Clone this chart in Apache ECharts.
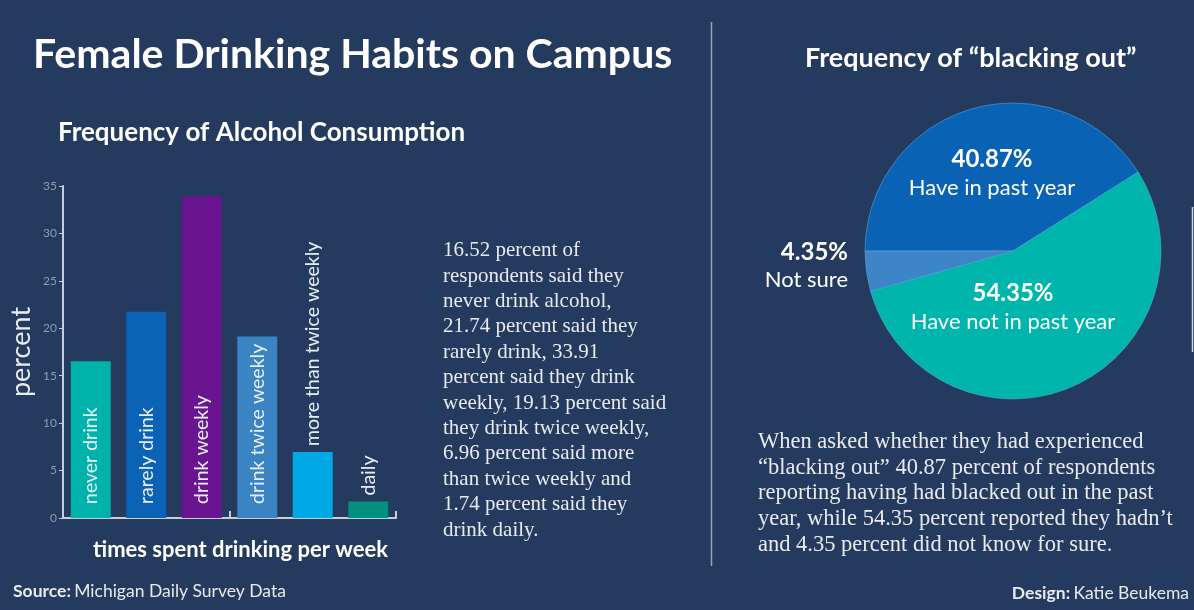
<!DOCTYPE html>
<html>
<head>
<meta charset="utf-8">
<script src="https://cdn.jsdelivr.net/npm/echarts@6/dist/echarts.min.js"></script>
<style>
html,body{margin:0;padding:0;background:#243a5e;}
#c{width:1194px;height:610px;}
</style>
</head>
<body>
<div id="c"></div>
<script>
// ---- data ----
const categories = ['never drink', 'rarely drink', 'drink weekly', 'drink twice weekly', 'more than twice weekly', 'daily'];
const percentValues = [16.52, 21.74, 33.91, 19.13, 6.96, 1.74];
const barColors = ['#00b3aa', '#0a63b4', '#6a1590', '#3b84c4', '#00a8e6', '#00907f'];
const yTicks = [0, 5, 10, 15, 20, 25, 30, 35];

const blackoutLabels = ['Have in past year', 'Have not in past year', 'Not sure'];
const blackoutValues = [40.87, 54.35, 4.35];
const blackoutColors = ['#0a62b4', '#00b5ac', '#3d85c6'];

const paraLeft = '16.52 percent of\nrespondents said they\nnever drink alcohol,\n21.74 percent said they\nrarely drink, 33.91\npercent said they drink\nweekly, 19.13 percent said\nthey drink twice weekly,\n6.96 percent said more\nthan twice weekly and\n1.74 percent said they\ndrink daily.';
const paraRight = 'When asked whether they had experienced\n\u201cblacking out\u201d 40.87 percent of respondents\nreporting having had blacked out in the past\nyear, while 54.35 percent reported they hadn\u2019t\nand 4.35 percent did not know for sure.';

const chart = echarts.init(document.getElementById('c'));
const sans = 'Lato, "Open Sans", sans-serif';
const serif = '"Liberation Serif", "DejaVu Serif", serif';

const pieLabelPos = [
  {x: 992, y: 173, align: 'center'},
  {x: 1013, y: 307, align: 'center'},
  {x: 848, y: 266, align: 'right'}
];

chart.setOption({
  backgroundColor: '#243a5e',
  animation: false,
  grid: {left: 63, top: 186, width: 333, height: 332, containLabel: false},
  xAxis: {
    type: 'category',
    data: categories,
    axisLine: {lineStyle: {color: '#c8ced8', width: 2}},
    axisTick: {show: true, inside: true, length: 7, lineStyle: {color: '#c8ced8', width: 2}},
    axisLabel: {show: false},
    name: 'times spent drinking per week',
    nameLocation: 'middle',
    nameGap: 21,
    nameTextStyle: {color: '#ffffff', fontFamily: sans, fontWeight: 'bold', fontSize: 22, padding: [0, 0, 0, 22]}
  },
  yAxis: {
    type: 'value',
    min: 0, max: 35, interval: 5,
    axisLine: {show: true, lineStyle: {color: '#c8ced8', width: 2}},
    axisTick: {show: true, length: 4, lineStyle: {color: '#c8ced8'}},
    splitLine: {show: false},
    axisLabel: {color: '#8f9bb0', fontFamily: sans, fontSize: 12, margin: 6,
      formatter: v => yTicks.includes(v) ? String(v) : ''},
    name: 'percent',
    nameLocation: 'middle',
    nameGap: 28,
    nameTextStyle: {color: '#e8ecf2', fontFamily: sans, fontSize: 27}
  },
  series: [
    {
      type: 'bar',
      barCategoryGap: '28%',
      data: percentValues.map((v, i) => ({
        value: v,
        itemStyle: {color: barColors[i]},
        label: i >= 4 ? {position: 'top', distance: 6} : {}
      })),
      label: {
        show: true,
        formatter: p => categories[p.dataIndex],
        position: 'insideBottom',
        distance: 14,
        rotate: 90,
        align: 'left',
        verticalAlign: 'middle',
        color: '#e6edf5',
        fontFamily: sans,
        fontSize: 19.5
      }
    },
    {
      type: 'pie',
      center: [1013, 251],
      radius: 148,
      startAngle: 180,
      clockwise: true,
      silent: true,
      data: blackoutValues.map((v, i) => ({name: blackoutLabels[i], value: v, itemStyle: {color: blackoutColors[i]}})),
      itemStyle: {borderColor: '#5aa6d8', borderWidth: 0.6},
      label: {
        show: true,
        position: 'inside',
        formatter: p => {
          const s = p.dataIndex === 2 ? 'r' : '';
          return '{p' + s + '|' + p.value.toFixed(2) + '%}\n{n' + s + '|' + p.name + '}';
        },
        rich: {
          p: {color: '#ffffff', fontFamily: sans, fontWeight: 'bold', fontSize: 24, lineHeight: 30, align: 'center'},
          n: {color: '#ffffff', fontFamily: sans, fontSize: 22, lineHeight: 28, align: 'center'},
          pr: {color: '#ffffff', fontFamily: sans, fontWeight: 'bold', fontSize: 24, lineHeight: 28, align: 'right'},
          nr: {color: '#ffffff', fontFamily: sans, fontSize: 22, lineHeight: 28, align: 'right'}
        }
      },
      labelLine: {show: false},
      labelLayout: p => {
        const q = pieLabelPos[p.dataIndex];
        return {x: q.x, y: q.y, align: q.align, verticalAlign: 'middle'};
      }
    }
  ],
  graphic: [
    {type: 'text', left: 33, top: 34, style: {text: 'Female Drinking Habits on Campus', fill: '#ffffff', font: 'bold 41px ' + sans}},
    {type: 'text', left: 58, top: 120, style: {text: 'Frequency of Alcohol Consumption', fill: '#ffffff', font: 'bold 26px ' + sans}},
    {type: 'text', left: 805, top: 45, style: {text: 'Frequency of \u201cblacking out\u201d', fill: '#ffffff', font: 'bold 27px ' + sans}},
    {type: 'line', shape: {x1: 711.5, y1: 22, x2: 711.5, y2: 566}, style: {stroke: '#9aa6b8', lineWidth: 1.5}},
    {type: 'line', shape: {x1: 1192.5, y1: 207, x2: 1192.5, y2: 352}, style: {stroke: '#d0d6e0', lineWidth: 1.5}},
    {type: 'text', left: 443, top: 238, style: {text: paraLeft, fill: '#e8eaee', font: '21px ' + serif, lineHeight: 25.4}},
    {type: 'text', left: 758, top: 429, style: {text: paraRight, fill: '#e8eaee', font: '22.5px ' + serif, lineHeight: 25.8}},
    {type: 'text', left: 13, top: 582, style: {
      text: '{b|Source:} {r|Michigan Daily Survey Data}',
      rich: {b: {fill: '#e8eaee', font: 'bold 17.5px ' + sans}, r: {fill: '#e8eaee', font: '17.5px ' + sans}}}},
    {type: 'text', right: 5, top: 584, style: {
      text: '{b|Design:} {r|Katie Beukema}',
      rich: {b: {fill: '#e8eaee', font: 'bold 17.5px ' + sans}, r: {fill: '#e8eaee', font: '17.5px ' + sans}}}}
  ]
});
</script>
</body>
</html>
